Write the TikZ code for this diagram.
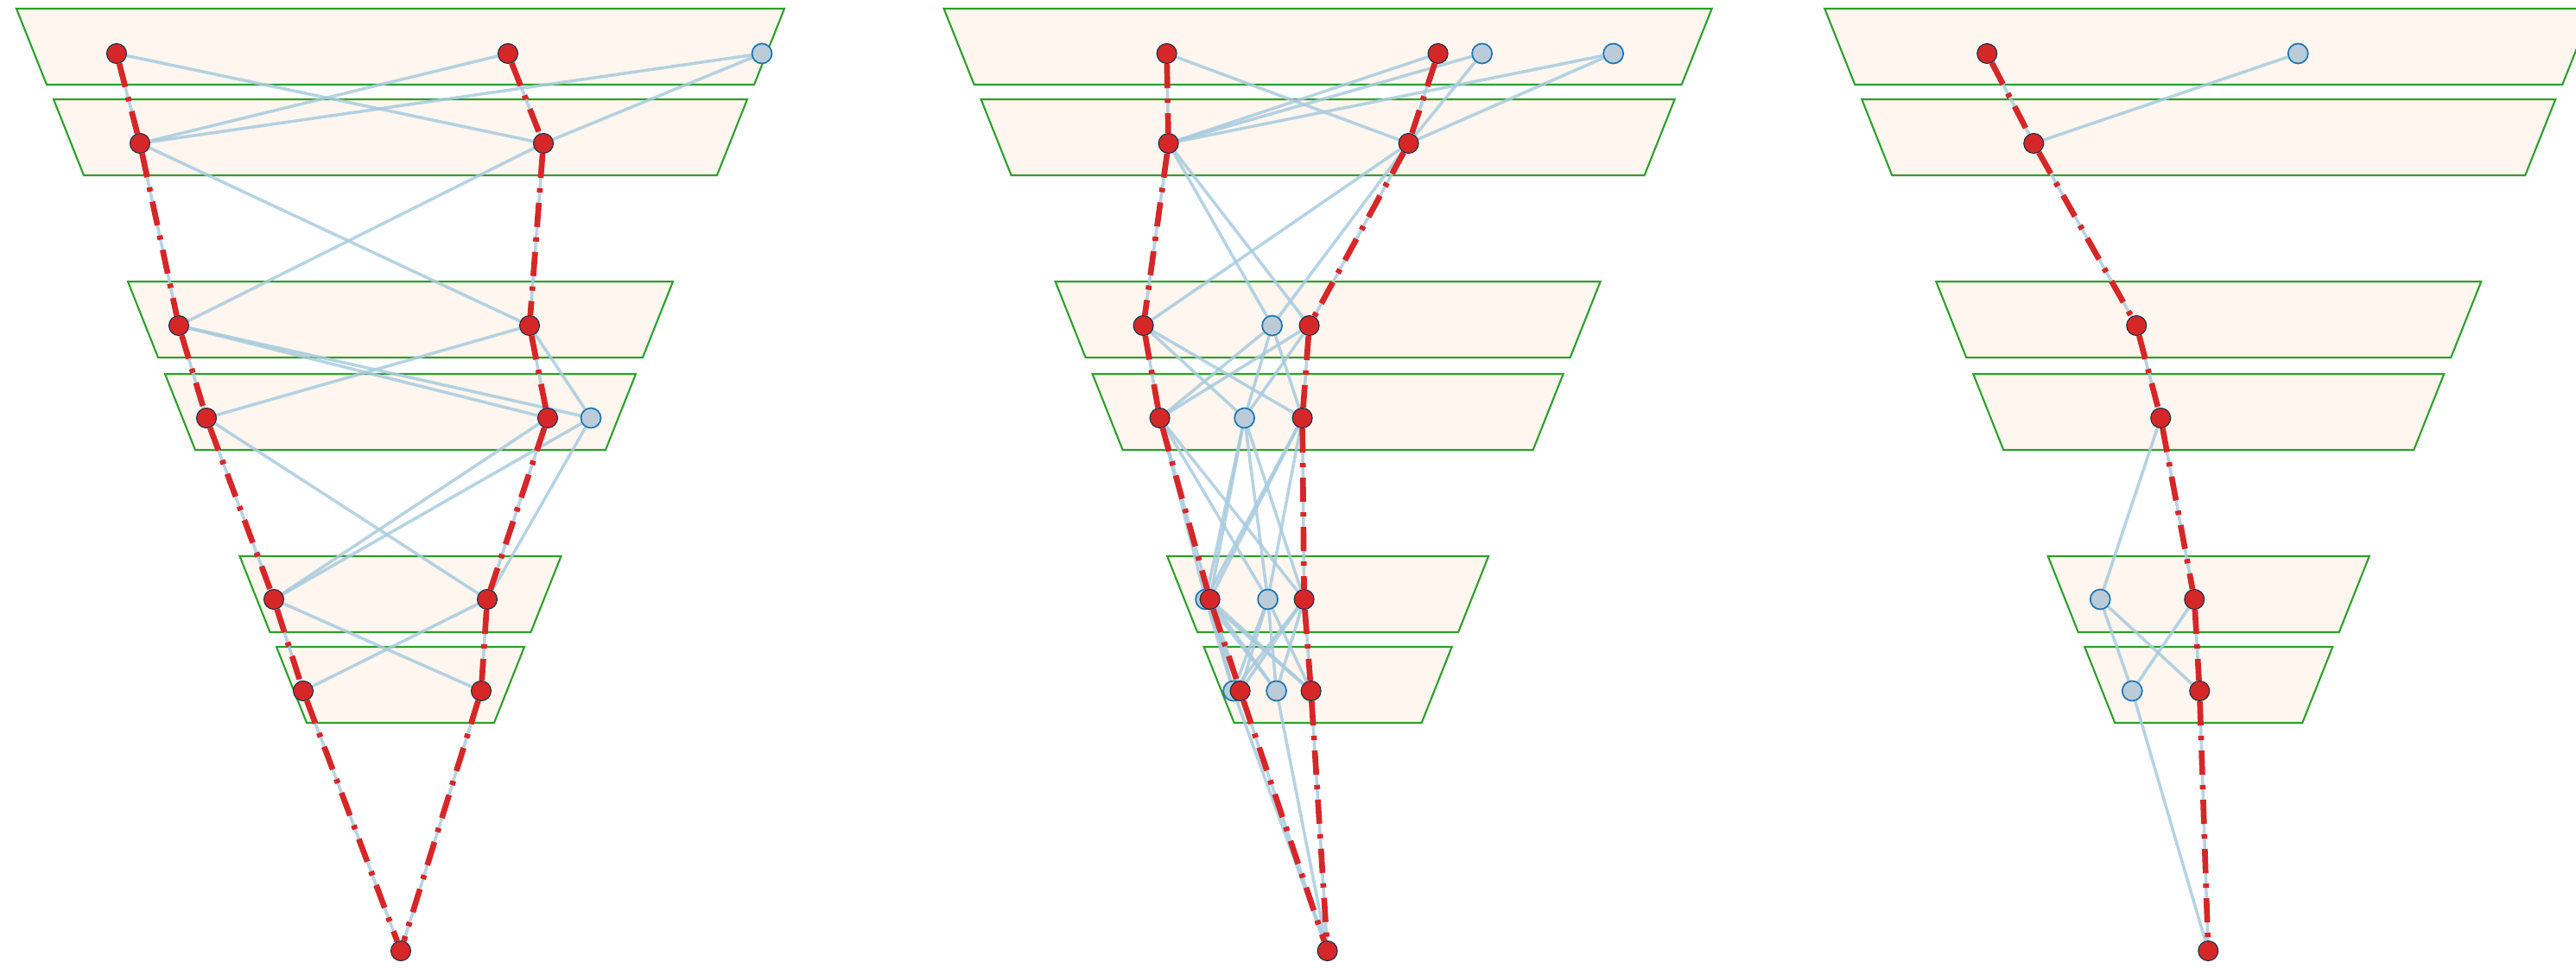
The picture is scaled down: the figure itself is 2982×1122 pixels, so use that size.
\documentclass[tikz,border=0pt]{standalone}
\usetikzlibrary{backgrounds}

\definecolor{hitred}{RGB}{214,39,40}
\definecolor{missblue}{RGB}{187,204,216}
\definecolor{rimblue}{RGB}{31,119,180}
\definecolor{linkblue}{RGB}{168,203,222}
\definecolor{layergreen}{RGB}{44,160,44}
\definecolor{layerfill}{RGB}{254,246,239}

% six layers of one panel: top y / half width at the top
\newcommand{\drawlayers}{%
    \foreach \t/\w in {10/444.5, 115/401.5, 326/315.5, 433/272.5, 644/186, 749/143.5}
        \draw[layer] (463.5-\w,\t) -- (463.5+\w,\t) -- (463.5+\w-35,\t+88) -- (463.5-\w+35,\t+88) -- cycle;%
}
% every node of one layer to every node of the next
\newcommand{\linklayers}[2]{%
    \foreach \u in {#1} {\foreach \v in {#2} {\draw[link] (\u) -- (\v);}}%
}

\begin{document}
\begin{tikzpicture}[
    x=0.01cm, y=-0.01cm,
    layer/.style={draw=layergreen, fill=layerfill, line width=0.6pt},
    hit/.style={circle, fill=hitred, draw=rimblue!40!black, line width=0.3pt, inner sep=0pt, minimum size=0.23cm},
    miss/.style={circle, fill=missblue, draw=rimblue, line width=0.5pt, inner sep=0pt, minimum size=0.23cm},
    link/.style={draw=linkblue, line width=1pt, opacity=0.85},
    track/.style={draw=hitred, line width=1.9pt, dash pattern=on 0.28cm off 0.12cm on 0.05cm off 0.12cm}
]
\useasboundingbox (0,0) rectangle (2982,1122);

% --- Left ---
\begin{scope}[xshift=0cm]
    \begin{pgfonlayer}{background}\drawlayers\end{pgfonlayer}
    \foreach \n/\x/\s in {A1a/135/hit, A1b/588/hit, A1c/882/miss} \node[\s] (\n) at (\x,62) {};
    \foreach \n/\x/\s in {A2a/162/hit, A2b/629/hit} \node[\s] (\n) at (\x,166) {};
    \foreach \n/\x/\s in {A3a/207/hit, A3b/613/hit} \node[\s] (\n) at (\x,377) {};
    \foreach \n/\x/\s in {A4a/239/hit, A4b/634/hit, A4c/684/miss} \node[\s] (\n) at (\x,484) {};
    \foreach \n/\x/\s in {A5a/317/hit, A5b/564/hit} \node[\s] (\n) at (\x,694) {};
    \foreach \n/\x/\s in {A6a/351/hit, A6b/557/hit} \node[\s] (\n) at (\x,800) {};
    \node[hit] (A7) at (464,1101) {};
    \begin{pgfonlayer}{background}
        \linklayers{A1a,A1b,A1c}{A2a,A2b}
        \linklayers{A2a,A2b}{A3a,A3b}
        \linklayers{A3a,A3b}{A4a,A4b,A4c}
        \linklayers{A4a,A4b,A4c}{A5a,A5b}
        \linklayers{A5a,A5b}{A6a,A6b}
        \linklayers{A6a,A6b}{A7}
        \draw[track] (A1a) -- (A2a) -- (A3a) -- (A4a) -- (A5a) -- (A6a) -- (A7);
        \draw[track] (A1b) -- (A2b) -- (A3b) -- (A4b) -- (A5b) -- (A6b) -- (A7);
    \end{pgfonlayer}
\end{scope}

% --- Middle ---
\begin{scope}[xshift=10.73cm]
    \begin{pgfonlayer}{background}\drawlayers\end{pgfonlayer}
    \foreach \n/\x/\s in {B1a/277/hit, B1b/591/hit, B1c/642/miss, B1d/794/miss} \node[\s] (\n) at (\x,62) {};
    \foreach \n/\x/\s in {B2a/279/hit, B2b/557/hit} \node[\s] (\n) at (\x,166) {};
    \foreach \n/\x/\s in {B3a/250/hit, B3b/399/miss, B3c/442/hit} \node[\s] (\n) at (\x,377) {};
    \foreach \n/\x/\s in {B4a/269/hit, B4b/367/miss, B4c/434/hit} \node[\s] (\n) at (\x,484) {};
    \foreach \n/\x/\s in {B5a/322/miss, B5b/327/hit, B5c/394/miss, B5d/436/hit} \node[\s] (\n) at (\x,694) {};
    \foreach \n/\x/\s in {B6a/354/miss, B6b/362/hit, B6c/404/miss, B6d/444/hit} \node[\s] (\n) at (\x,800) {};
    \node[hit] (B7) at (463,1101) {};
    \begin{pgfonlayer}{background}
        \linklayers{B1a,B1b,B1c,B1d}{B2a,B2b}
        \linklayers{B2a,B2b}{B3a,B3b,B3c}
        \linklayers{B3a,B3b,B3c}{B4a,B4b,B4c}
        \linklayers{B4a,B4b,B4c}{B5a,B5b,B5c,B5d}
        \linklayers{B5a,B5b,B5c,B5d}{B6a,B6b,B6c,B6d}
        \linklayers{B6a,B6b,B6c,B6d}{B7}
        \draw[track] (B1a) -- (B2a) -- (B3a) -- (B4a) -- (B5b) -- (B6b) -- (B7);
        \draw[track] (B1b) -- (B2b) -- (B3c) -- (B4c) -- (B5d) -- (B6d) -- (B7);
    \end{pgfonlayer}
\end{scope}

% --- Right ---
\begin{scope}[xshift=20.92cm]
    \begin{pgfonlayer}{background}\drawlayers\end{pgfonlayer}
    \foreach \n/\x/\s in {C1a/207/hit, C1b/567/miss} \node[\s] (\n) at (\x,62) {};
    \node[hit] (C2a) at (261,166) {};
    \node[hit] (C3a) at (380,377) {};
    \node[hit] (C4a) at (408,484) {};
    \foreach \n/\x/\s in {C5a/338/miss, C5b/447/hit} \node[\s] (\n) at (\x,694) {};
    \foreach \n/\x/\s in {C6a/375/miss, C6b/453/hit} \node[\s] (\n) at (\x,800) {};
    \node[hit] (C7) at (463,1101) {};
    \begin{pgfonlayer}{background}
        \linklayers{C1a,C1b}{C2a}
        \linklayers{C2a}{C3a}
        \linklayers{C3a}{C4a}
        \linklayers{C4a}{C5a,C5b}
        \linklayers{C5a,C5b}{C6a,C6b}
        \linklayers{C6a,C6b}{C7}
        \draw[track] (C1a) -- (C2a) -- (C3a) -- (C4a) -- (C5b) -- (C6b) -- (C7);
    \end{pgfonlayer}
\end{scope}

\end{tikzpicture}
\end{document}
